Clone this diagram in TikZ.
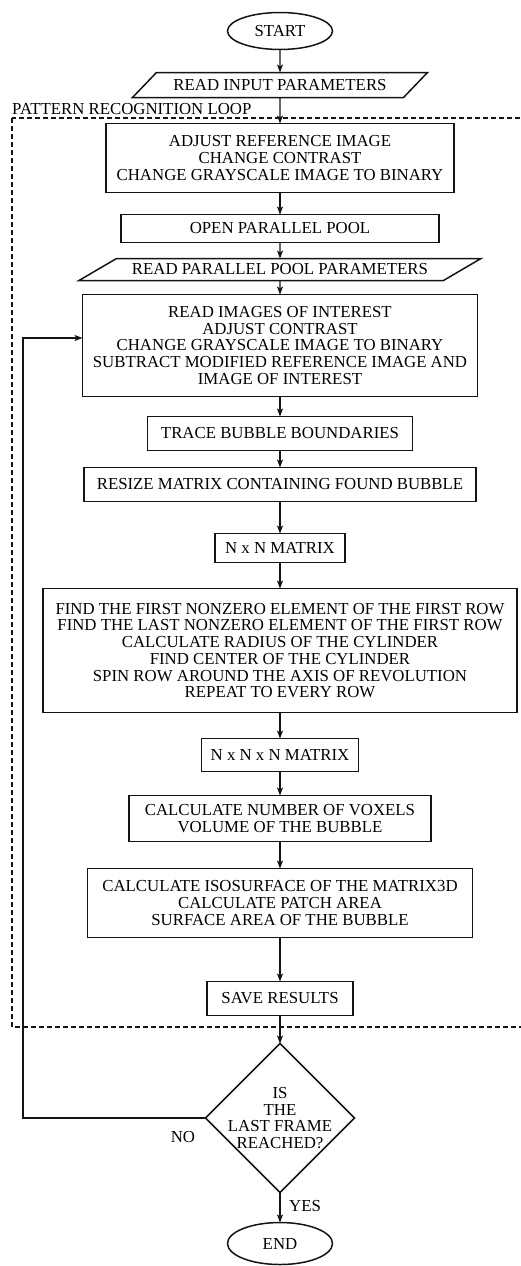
\documentclass[tikz,border=0pt]{standalone}
\usepackage{fontspec}
\setmainfont{Liberation Serif}
\usetikzlibrary{arrows.meta,positioning,shapes.geometric}
\definecolor{fcedge}{RGB}{20,20,20}
\newcommand\fcfont{\fontsize{16.8}{16.7}\selectfont}
\tikzset{
  fcbox/.style={
    draw=fcedge, line width=1.5pt, align=center,
    inner sep=2pt, outer sep=0pt, font=\fcfont
  },
  proc/.style={fcbox, rectangle},
  io/.style={fcbox, trapezium, trapezium stretches body, inner sep=1pt},
  term/.style={fcbox, ellipse, minimum width=105pt, inner sep=0pt},
  dec/.style={fcbox, diamond, minimum width=149pt, minimum height=149pt, inner sep=-5pt},
  arr/.style={-{Stealth[length=8pt,width=6pt,inset=2pt]}, draw=fcedge, line width=1.1pt},
  grp/.style={draw=fcedge, dash pattern=on 5pt off 3pt, line width=1.2pt},
  anno/.style={font=\fcfont, inner sep=0pt}
}

\begin{document}
\begin{tikzpicture}[x=1pt, y=-1pt]
  \useasboundingbox (0,0) rectangle (520,1266);
  \node[term, minimum height=37pt] (start) at (280,31) {START};
  \node[io, below=23pt of start, minimum width=295pt, minimum height=25pt,
    trapezium left angle=29, trapezium right angle=151] (inp) {READ INPUT PARAMETERS};
  \node[proc, below=26pt of inp, minimum width=348pt, minimum height=69pt] (adj)
    {ADJUST REFERENCE IMAGE\\CHANGE CONTRAST\\CHANGE GRAYSCALE IMAGE TO BINARY};
  \node[proc, below=22pt of adj, minimum width=318pt, minimum height=28pt] (pool)
    {OPEN PARALLEL POOL};
  \node[io, below=16pt of pool, minimum width=402pt, minimum height=22pt,
    trapezium left angle=19.5, trapezium right angle=160.5] (ppar)
    {READ PARALLEL POOL PARAMETERS};
  \node[proc, below=14pt of ppar, minimum width=395pt, minimum height=102pt] (imgs)
    {READ IMAGES OF INTEREST\\ADJUST CONTRAST\\CHANGE GRAYSCALE IMAGE TO BINARY\\
     SUBTRACT MODIFIED REFERENCE IMAGE AND\\IMAGE OF INTEREST};
  \node[proc, below=20pt of imgs, minimum width=265pt, minimum height=34pt] (trace)
    {TRACE BUBBLE BOUNDARIES};
  \node[proc, below=17pt of trace, minimum width=392pt, minimum height=34pt] (resize)
    {RESIZE MATRIX CONTAINING FOUND BUBBLE};
  \node[proc, below=32pt of resize, minimum width=130pt, minimum height=29pt] (nmat)
    {N x N MATRIX};
  \node[proc, below=26pt of nmat, minimum width=474pt, minimum height=124pt] (spin)
    {FIND THE FIRST NONZERO ELEMENT OF THE FIRST ROW\\
     FIND THE LAST NONZERO ELEMENT OF THE FIRST ROW\\
     CALCULATE RADIUS OF THE CYLINDER\\FIND CENTER OF THE CYLINDER\\
     SPIN ROW AROUND THE AXIS OF REVOLUTION\\REPEAT TO EVERY ROW};
  \node[proc, below=26pt of spin, minimum width=157pt, minimum height=33pt] (nnmat)
    {N x N x N MATRIX};
  \node[proc, below=24pt of nnmat, minimum width=302pt, minimum height=46pt] (vox)
    {CALCULATE NUMBER OF VOXELS\\VOLUME OF THE BUBBLE};
  \node[proc, below=27pt of vox, minimum width=385pt, minimum height=69pt] (iso)
    {CALCULATE ISOSURFACE OF THE MATRIX3D\\CALCULATE PATCH AREA\\
     SURFACE AREA OF THE BUBBLE};
  \node[proc, below=44pt of iso, minimum width=146pt, minimum height=34pt] (save)
    {SAVE RESULTS};
  \node[dec, below=28pt of save] (chk) {IS\\THE\\LAST FRAME\\REACHED?};
  \node[term, below=30pt of chk, minimum height=42pt] (stop) {END};

  % loop frame
  \coordinate (grpnw) at (12,118);
  \coordinate (grpse) at (545,1027);
  \draw[grp] (grpnw) rectangle (grpse);
  \node[anno, anchor=base west] (grplbl) at (12,114) {PATTERN RECOGNITION LOOP};

  \draw[arr] (start) -- (inp);
  \draw[arr] (inp) -- (adj);
  \draw[arr] (adj) -- (pool);
  \draw[arr] (pool) -- (ppar);
  \draw[arr] (ppar) -- (imgs);
  \draw[arr] (imgs) -- (trace);
  \draw[arr] (trace) -- (resize);
  \draw[arr] (resize) -- (nmat);
  \draw[arr] (nmat) -- (spin);
  \draw[arr] (spin) -- (nnmat);
  \draw[arr] (nnmat) -- (vox);
  \draw[arr] (vox) -- (iso);
  \draw[arr] (iso) -- (save);
  \draw[arr] (save) -- (chk);
  \draw[arr] (chk) -- (stop);

  % back to next frame
  \coordinate (back) at (23,338);
  \draw[arr] (chk.west) -- (chk.west -| back) -- (back) -- (back -| imgs.west);
  \node[anno] (no) at (183,1137) {NO};
  \node[anno] (yes) at (305,1206) {YES};
\end{tikzpicture}
\end{document}
